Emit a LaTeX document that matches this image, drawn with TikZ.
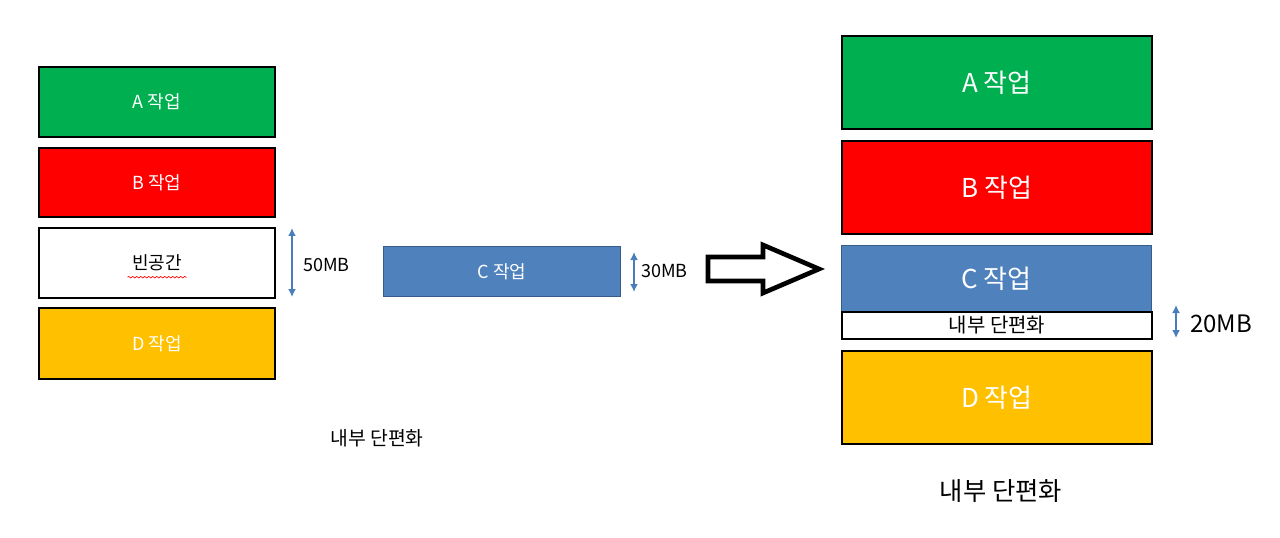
\documentclass[tikz,border=0pt]{standalone}
\usepackage{fontspec}
\setmainfont{Noto Sans CJK KR}
\usetikzlibrary{arrows.meta,decorations.pathmorphing}
\definecolor{jgreen}{HTML}{00B050}
\definecolor{jred}{HTML}{FF0000}
\definecolor{jyellow}{HTML}{FFC000}
\definecolor{jblue}{HTML}{4F81BD}
\definecolor{jblueb}{HTML}{385D8A}
\definecolor{arrblue}{HTML}{4A7EBB}
\begin{document}
\begin{tikzpicture}[x=0.75pt,y=-0.75pt,
  job/.style={draw=black,line width=1.5pt,anchor=north west,inner sep=0pt},
  smalltxt/.style={font=\fontsize{13.5}{16}\selectfont},
  bigtxt/.style={font=\fontsize{19.5}{23}\selectfont},
  sizearrow/.style={draw=arrblue,line width=1.3pt,{Latex[length=6pt,width=6pt]}-{Latex[length=6pt,width=6pt]}}]
\useasboundingbox (0,0) rectangle (1280,538);
% left column
\node[job,fill=jgreen,minimum width=236*0.75pt,minimum height=70*0.75pt] (la) at (38,66) {};
\node[smalltxt,text=white] at (la.center) {A 작업};
\node[job,fill=jred,minimum width=236*0.75pt,minimum height=69*0.75pt] (lb) at (38,147) {};
\node[smalltxt,text=white] at (lb.center) {B 작업};
\node[job,fill=white,minimum width=236*0.75pt,minimum height=70*0.75pt] (le) at (38,227) {};
\node[smalltxt,text=black] (let) at (le.center) {빈공간};
\draw[red,line width=0.5pt,decorate,decoration={snake,amplitude=0.6pt,segment length=3pt}] ([yshift=-1pt]let.south west) -- ([yshift=-1pt]let.south east);
\node[job,fill=jyellow,minimum width=236*0.75pt,minimum height=71*0.75pt] (ld) at (38,307) {};
\node[smalltxt,text=white] at (ld.center) {D 작업};
\coordinate (a50t) at (292,228);
\coordinate (a50b) at (292,297);
\draw[sizearrow] (a50t) -- (a50b);
\node[smalltxt,anchor=west,inner sep=0pt] (t50) at (303,265) {50MB};
% C job
\node[draw=jblueb,line width=1pt,fill=jblue,anchor=north west,inner sep=0pt,minimum width=237*0.75pt,minimum height=50*0.75pt] (cj) at (383,246) {};
\node[smalltxt,text=white] at (cj.center) {C 작업};
\coordinate (a30t) at (634,252);
\coordinate (a30b) at (634,292);
\draw[sizearrow] (a30t) -- (a30b);
\node[smalltxt,anchor=west,inner sep=0pt] (t30) at (641,271) {30MB};
\node[font=\fontsize{14.5}{17}\selectfont] (lleft) at (377,438) {내부 단편화};
% hollow arrow
\draw[line width=3.5pt,line join=miter,fill=white] (708,257) -- (763,257) -- (763,245) -- (819,269) -- (763,293) -- (763,281) -- (708,281) -- cycle;
% right column
\node[job,fill=jgreen,minimum width=310*0.75pt,minimum height=93*0.75pt] (ra) at (841,35) {};
\node[bigtxt,text=white] at (ra.center) {A 작업};
\node[job,fill=jred,minimum width=310*0.75pt,minimum height=93*0.75pt] (rb) at (841,140) {};
\node[bigtxt,text=white] at (rb.center) {B 작업};
\node[job,fill=jblue,draw=jblueb,line width=1pt,minimum width=310*0.75pt,minimum height=66*0.75pt] (rc) at (841,245) {};
\node[bigtxt,text=white] at (rc.center) {C 작업};
\node[job,fill=white,minimum width=310*0.75pt,minimum height=27*0.75pt] (rf) at (841,311) {};
\node[font=\fontsize{15}{17}\selectfont] at (rf.center) {내부 단편화};
\node[job,fill=jyellow,minimum width=310*0.75pt,minimum height=93*0.75pt] (rd) at (841,350) {};
\node[bigtxt,text=white] at (rd.center) {D 작업};
\coordinate (a20t) at (1176,305);
\coordinate (a20b) at (1176,338);
\draw[sizearrow] (a20t) -- (a20b);
\node[font=\fontsize{18}{21}\selectfont,anchor=west,inner sep=0pt] (t20) at (1190,324) {20MB};
\node[font=\fontsize{19}{22}\selectfont] (lright) at (1001,491) {내부 단편화};
\end{tikzpicture}
\end{document}
